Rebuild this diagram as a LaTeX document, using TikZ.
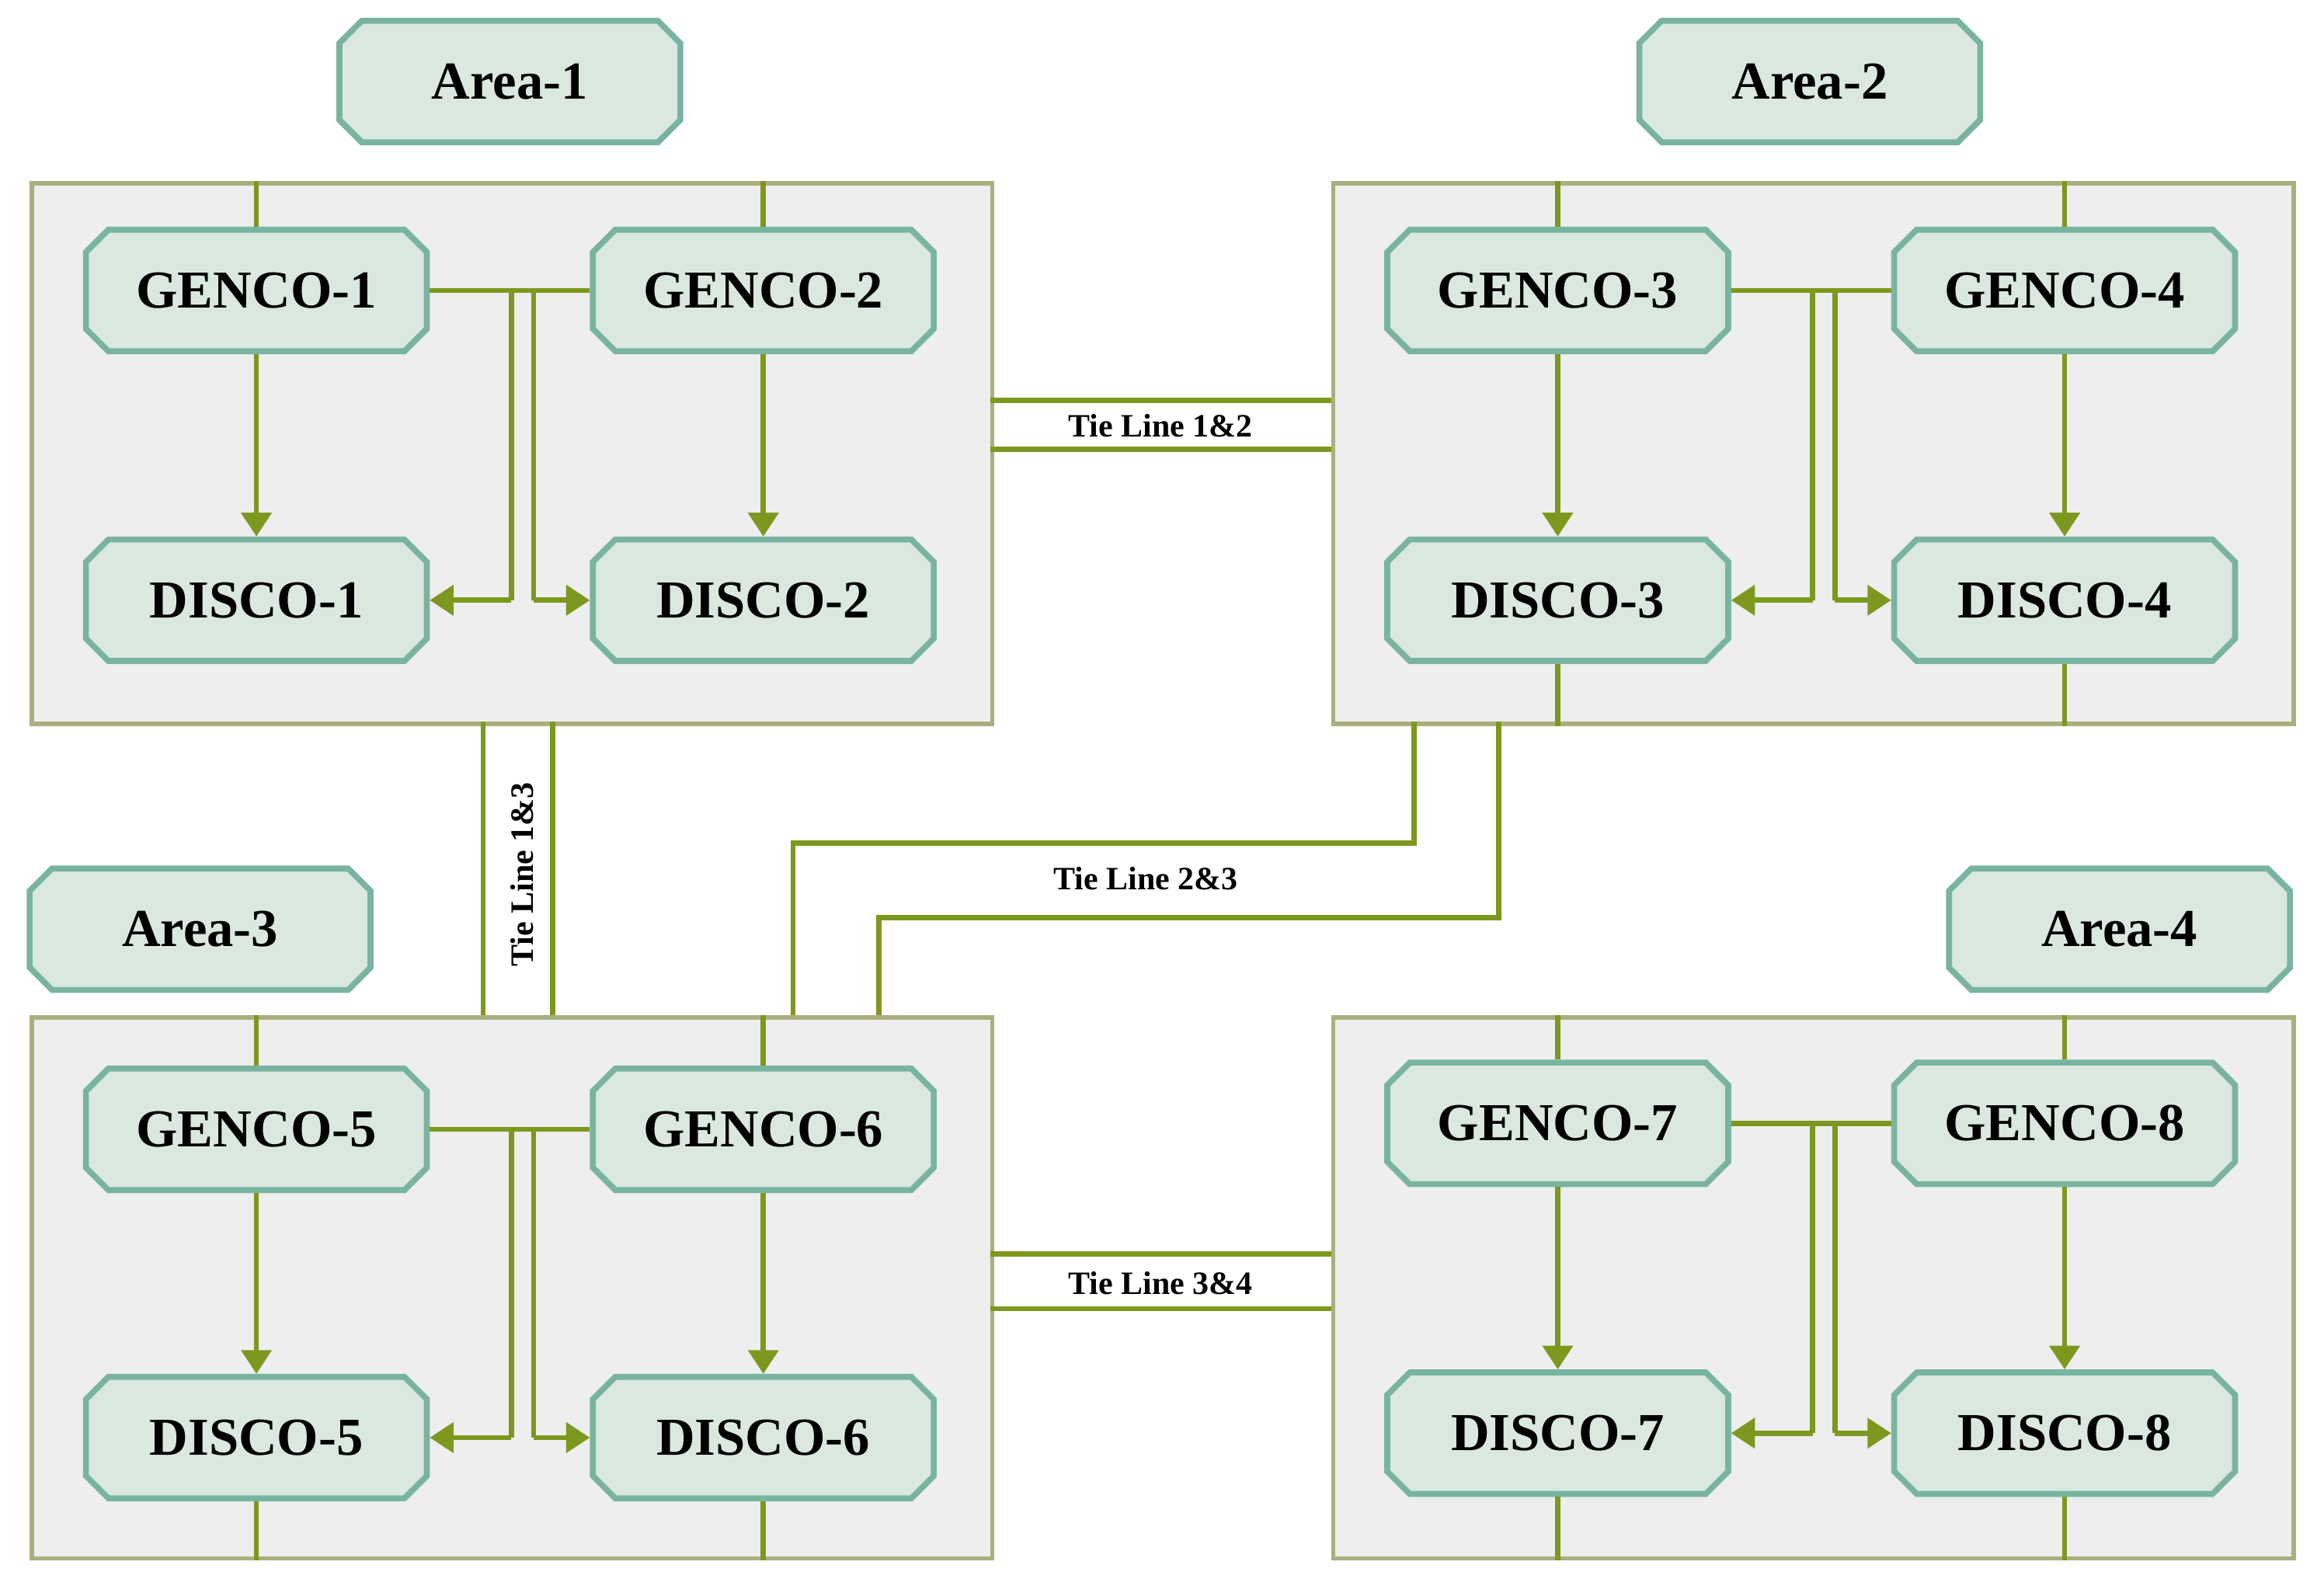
\documentclass[tikz,border=0pt]{standalone}
\usepackage{fontspec}
\setmainfont{Liberation Serif}
\usetikzlibrary{shapes.misc,arrows.meta}
\definecolor{lg}{RGB}{125,152,30}
\definecolor{nf}{RGB}{218,232,224}
\definecolor{nb}{RGB}{120,180,160}
\definecolor{bf}{RGB}{238,238,238}
\definecolor{bb}{RGB}{170,175,125}
\tikzset{
 oct/.style={chamfered rectangle,chamfered rectangle xsep=24pt,chamfered rectangle angle=45,minimum width=230pt,minimum height=82pt,inner sep=0pt,
   fill=nf,draw=nb,line width=4pt,font=\fontsize{36}{36}\selectfont\bfseries},
 box/.style={fill=bf,draw=bb,line width=3pt},
 gl/.style={draw=lg,line width=3.5pt},
 ar/.style={gl,-{Triangle[width=20pt,length=16pt]}},
 tie/.style={font=\fontsize{22}{22}\selectfont\bfseries,inner sep=1pt},
}
\newcommand\AreaBlk[9]{%
  \node[box,minimum width=648pt,minimum height=365pt,inner sep=0pt,anchor=north west] (#1) at (#2,#3) {};
  \node[oct] (#1g1) at (#2+153,#4) {#6};
  \node[oct] (#1g2) at (#2+495,#4) {#7};
  \node[oct] (#1d1) at (#2+153,#5) {#8};
  \node[oct] (#1d2) at (#2+495,#5) {#9};
  \draw[gl] (#1g1.north) -- (#1g1.north |- #1.north);
  \draw[gl] (#1g2.north) -- (#1g2.north |- #1.north);
  \draw[ar] (#1g1.south) -- (#1d1.north);
  \draw[ar] (#1g2.south) -- (#1d2.north);
  \draw[gl] (#1g1.east) -- (#1g2.west);
  \coordinate (#1a) at (#2+325,#4);
  \coordinate (#1b) at (#2+340,#4);
  \draw[gl] (#1a) -- (#1a |- #1d1.east);
  \draw[gl] (#1b) -- (#1b |- #1d1.east);
  \draw[ar] (#1a |- #1d1.east) -- (#1d1.east);
  \draw[ar] (#1b |- #1d1.east) -- (#1d2.west);
}
\newcommand\BotLines[1]{%
  \draw[gl] (#1d1.south) -- (#1d1.south |- #1.south);
  \draw[gl] (#1d2.south) -- (#1d2.south |- #1.south);}
\begin{document}
\begin{tikzpicture}[x=1pt,y=-1pt]
\useasboundingbox (0,0) rectangle (1568,1065);
\fill[white] (0,0) rectangle (1568,1065);
\AreaBlk{A}{20}{122}{196}{405}{GENCO-1}{GENCO-2}{DISCO-1}{DISCO-2}
\AreaBlk{B}{898}{122}{196}{405}{GENCO-3}{GENCO-4}{DISCO-3}{DISCO-4}
\AreaBlk{C}{20}{685}{762}{970}{GENCO-5}{GENCO-6}{DISCO-5}{DISCO-6}
\AreaBlk{D}{898}{685}{758}{967}{GENCO-7}{GENCO-8}{DISCO-7}{DISCO-8}
\BotLines{B}\BotLines{C}\BotLines{D}
\node[oct] (L1) at (344,55) {Area-1};
\node[oct] (L2) at (1221,55) {Area-2};
\node[oct] (L3) at (135,627) {Area-3};
\node[oct] (L4) at (1430,627) {Area-4};
\coordinate (t1a) at (668,270); \coordinate (t1b) at (668,303);
\draw[gl] (t1a) -- (t1a -| B.west);
\draw[gl] (t1b) -- (t1b -| B.west);
\node[tie] (T12) at (783,287) {Tie Line 1\&2};
\coordinate (t3a) at (668,846); \coordinate (t3b) at (668,883);
\draw[gl] (t3a) -- (t3a -| D.west);
\draw[gl] (t3b) -- (t3b -| D.west);
\node[tie] (T34) at (783,866) {Tie Line 3\&4};
\coordinate (v1) at (326,487); \coordinate (v2) at (373,487);
\draw[gl] (v1) -- (v1 |- C.north);
\draw[gl] (v2) -- (v2 |- C.north);
\node[tie,rotate=90] (T13) at (352,590) {Tie Line 1\&3};
\coordinate (w1) at (954,487); \coordinate (w2) at (1011,487);
\draw[gl] (w1) -- (954,569) -- (535,569) -- (535,685);
\draw[gl] (w2) -- (1011,619) -- (593,619) -- (593,685);
\node[tie] (T23) at (773,593) {Tie Line 2\&3};
\end{tikzpicture}
\end{document}
